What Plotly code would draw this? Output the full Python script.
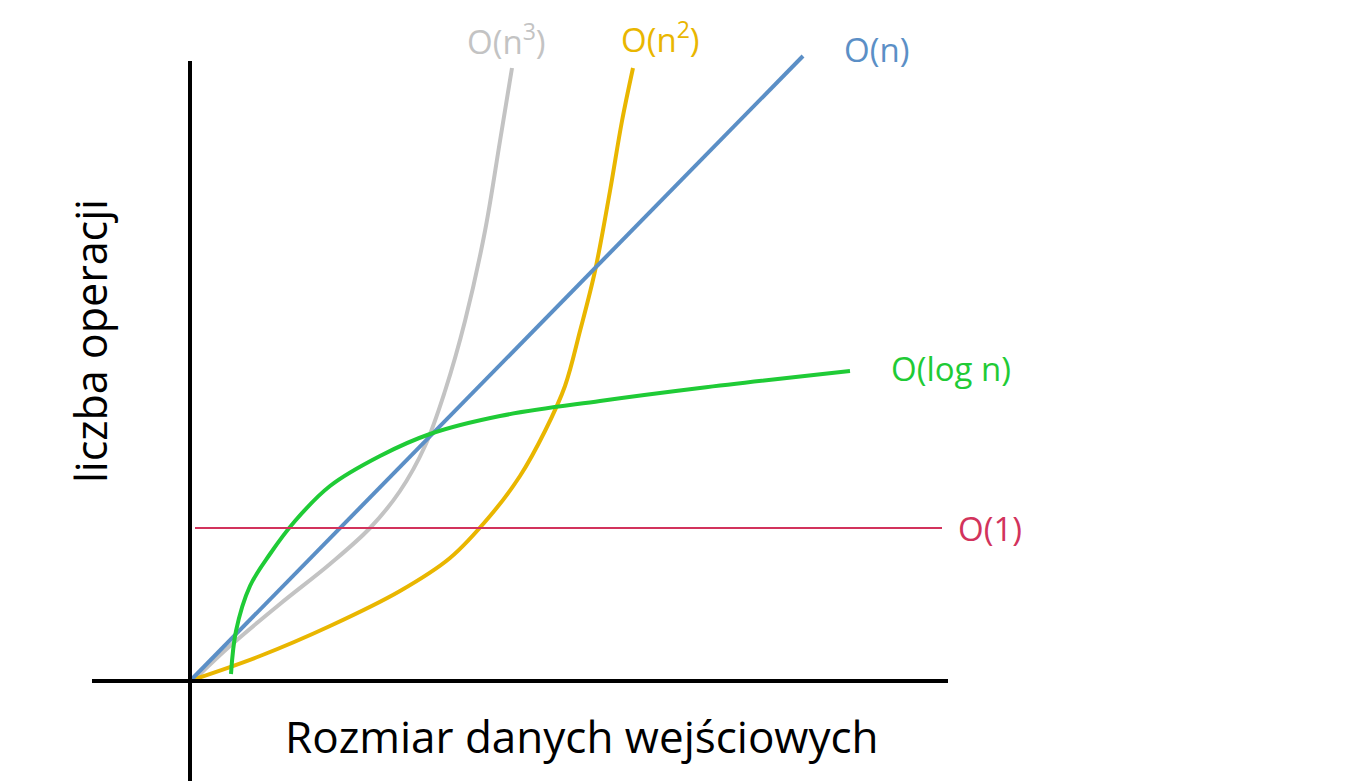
import plotly.graph_objects as go

# values (x: input size, y: operation count, arbitrary units)
n_x = [0, 613]
n_y = [0, 625]

const_x = [5, 752]
const_y = [153, 153]

log_x = [41, 46, 60, 80, 105, 140, 190, 240, 310, 410, 510, 660]
log_y = [7, 50, 95, 127, 160, 195, 225, 247, 265, 280, 293, 310]

sq_x = [5, 70, 140, 210, 260, 300, 330, 355, 375, 390, 405, 420, 432, 443]
sq_y = [2, 25, 55, 90, 123, 165, 205, 250, 295, 350, 410, 490, 560, 613]

cube_x = [5, 40, 90, 140, 180, 210, 235, 255, 275, 295, 310, 322]
cube_y = [2, 35, 77, 117, 153, 190, 235, 290, 360, 450, 540, 613]

labels = ["O(n<sup>3</sup>)", "O(n<sup>2</sup>)", "O(n)", "O(log n)", "O(1)"]
label_x = [316, 470, 686, 761, 800]
label_y = [642, 644, 632, 313, 153]

colors = ["#c3c3c3", "#e9b600", "#5b8fc6", "#1fcb36", "#d2335c"]

fig = go.Figure()
series = [(cube_x, cube_y), (sq_x, sq_y), (n_x, n_y), (log_x, log_y), (const_x, const_y)]
widths = [4, 4, 4, 4, 2]
for (xs, ys), c, w in zip(series, colors, widths):
    fig.add_trace(go.Scatter(x=xs, y=ys, mode="lines", line=dict(color=c, width=w, shape="spline"),
                             showlegend=False, hoverinfo="skip"))

for t, x, y, c in zip(labels, label_x, label_y, colors):
    fig.add_annotation(x=x, y=y, text=t, showarrow=False, font=dict(size=33, color=c, family="Open Sans"))

# axes drawn as thick black lines
fig.add_shape(type="line", x0=0, x1=0, y0=620, y1=-100, line=dict(color="black", width=4))
fig.add_shape(type="line", x0=-98, x1=758, y0=0, y1=0, line=dict(color="black", width=4))

fig.add_annotation(x=392, y=-55, text="Rozmiar danych wejściowych", showarrow=False,
                   font=dict(size=44, color="black", family="Open Sans"))
fig.add_annotation(x=-100, y=340, text="liczba operacji", showarrow=False, textangle=-90,
                   font=dict(size=43, color="black", family="Open Sans"))

fig.update_xaxes(range=[-182, 1172], visible=False)
fig.update_yaxes(range=[-111, 673], visible=False)
fig.update_layout(width=1354, height=784, margin=dict(l=0, r=0, t=0, b=0),
                  plot_bgcolor="white", paper_bgcolor="white")

fig.write_html("out.html")
